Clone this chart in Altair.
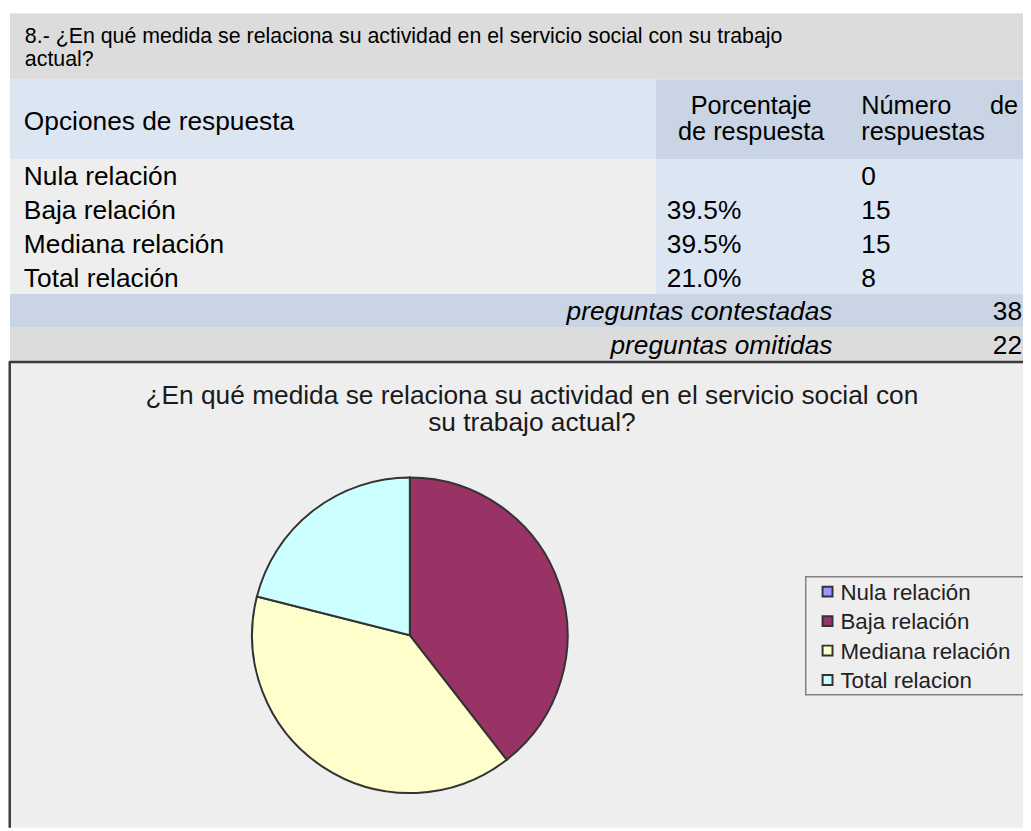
import altair as alt
import pandas as pd

# ---------------- data ----------------
question = ["8.- ¿En qué medida se relaciona su actividad en el servicio social con su trabajo", "actual?"]
header_options = "Opciones de respuesta"
header_pct = ["Porcentaje", "de respuesta"]
header_num = ["Número", "de", "respuestas"]
options = ["Nula relación", "Baja relación", "Mediana relación", "Total relación"]
percent_labels = ["", "39.5%", "39.5%", "21.0%"]
counts = [0, 15, 15, 8]
summary_labels = ["preguntas contestadas", "preguntas omitidas"]
summary_values = [38, 22]
chart_title = ["¿En qué medida se relaciona su actividad en el servicio social con", "su trabajo actual?"]
legend_labels = ["Nula relación", "Baja relación", "Mediana relación", "Total relacion"]
slice_colors = ["#9999FF", "#993366", "#FFFFCC", "#CCFFFF"]

# ---------------- layout (page pixels) ----------------
W, H = 1023, 823
OX, OY = 8, 8
FONT = "Liberation Sans"
XS = alt.Scale(domain=[OX, OX + W], nice=False, zero=False)
YS = alt.Scale(domain=[OY, OY + H], nice=False, zero=False, reverse=True)
X = alt.X("x:Q", scale=XS, axis=None)
Y = alt.Y("y:Q", scale=YS, axis=None)

layers = []


def rect(x, x2, y, y2, fill, **kw):
    df = pd.DataFrame({"x": [x], "x2": [x2], "y": [y], "y2": [y2]})
    return alt.Chart(df).mark_rect(fill=fill, **kw).encode(
        x=X, x2="x2:Q", y=Y, y2="y2:Q")


def texts(rows, **kw):
    df = pd.DataFrame(rows, columns=["x", "y", "t"])
    kw.setdefault("font", FONT)
    kw.setdefault("baseline", "alphabetic")
    kw.setdefault("color", "#000000")
    kw.setdefault("align", "left")
    return alt.Chart(df).mark_text(**kw).encode(x=X, y=Y, text="t:N")


def cap_base(center, fs):
    return center + 0.358 * fs


LEFT, SPLIT, RIGHT = 10, 661, 1031
T0, T1, T2 = 10, 77, 157
ROW_H = 34
rows_end = T2 + ROW_H * len(options)

# backgrounds
layers.append(rect(LEFT, RIGHT, T0, T1, "#DCDCDC"))
layers.append(rect(LEFT, SPLIT, T1, T2, "#DCE6F2"))
layers.append(rect(SPLIT, RIGHT, T1, T2, "#C9D5E5"))
layers.append(rect(LEFT, SPLIT, T2, rows_end, "#EEEEEE"))
layers.append(rect(SPLIT, RIGHT, T2, rows_end, "#DCE6F2"))
layers.append(rect(LEFT, RIGHT, rows_end, rows_end + ROW_H, "#C9D5E5"))
layers.append(rect(LEFT, RIGHT, rows_end + ROW_H, rows_end + 2 * ROW_H, "#DCDCDC"))
box_top = rows_end + 2 * ROW_H
layers.append(rect(9, RIGHT, box_top, OY + H, "#EEEEEE"))

# chart-box border (top and left)
border = pd.DataFrame({"x": [9, 9.75], "x2": [RIGHT, 9.75],
                       "y": [box_top + 0.5, box_top], "y2": [box_top + 0.5, OY + H]})
layers.append(alt.Chart(border).mark_rule(color="#3A3A3A", strokeWidth=2.5).encode(
    x=X, x2="x2:Q", y=Y, y2="y2:Q"))

# question title
FS_T = 21.5
layers.append(texts([(25, 40, question[0]), (25, 63, question[1])], fontSize=FS_T))

# table headers
FS = 26.5
FS_H = 25.5
layers.append(texts([(24, cap_base(118, FS), header_options)], fontSize=FS))
layers.append(texts([(757, 112, header_pct[0]), (757, 138, header_pct[1])], fontSize=FS_H, align="center"))
layers.append(texts([(868, 112, header_num[0]), (868, 138, header_num[2])], fontSize=FS_H))
layers.append(texts([(1026, 112, header_num[1])], fontSize=FS_H, align="right"))

# table body
body = []
for i, (o, p, c) in enumerate(zip(options, percent_labels, counts)):
    yb = cap_base(T2 + ROW_H * i + ROW_H / 2, FS)
    body.append((24, yb, o))
    body.append((672, yb, p))
    body.append((868, yb, str(c)))
layers.append(texts(body, fontSize=FS))

# summary rows
summ_l, summ_v = [], []
for i, (lab, v) in enumerate(zip(summary_labels, summary_values)):
    yb = cap_base(rows_end + ROW_H * i + ROW_H / 2, FS)
    summ_l.append((839, yb, lab))
    summ_v.append((1030, yb, str(v)))
layers.append(texts(summ_l, fontSize=FS, align="right", fontStyle="italic"))
layers.append(texts(summ_v, fontSize=FS, align="right"))

# chart title
FS_C = 26.5
layers.append(texts([(536, cap_base(394, FS_C), chart_title[0]),
                     (536, cap_base(422, FS_C), chart_title[1])],
                    fontSize=FS_C, align="center", color="#1A1A1A"))

# pie
CX, CY, R = 413, 637, 159
pie_df = pd.DataFrame({"cat": legend_labels, "n": counts, "idx": list(range(len(counts)))})
color_scale = alt.Scale(domain=legend_labels, range=slice_colors)
layers.append(alt.Chart(pie_df).mark_arc(outerRadius=R, x=CX - OX, y=CY - OY,
                                         stroke="#333333", strokeWidth=2).encode(
    theta=alt.Theta("n:Q", stack=True),
    order=alt.Order("idx:Q"),
    color=alt.Color("cat:N", scale=color_scale, legend=None)))

# legend
LX0, LY0, LY1 = 812, 578, 697
layers.append(rect(LX0, RIGHT + 10, LY0, LY1, "#EEEEEE", stroke="#808080", strokeWidth=1.5))
leg_rows = pd.DataFrame({"cat": legend_labels,
                         "y": [593 + 29.7 * i for i in range(len(legend_labels))]})
leg_rows["x"] = 834
leg_rows["tx"] = 847
layers.append(alt.Chart(leg_rows).mark_square(size=100, filled=True, opacity=1,
                                              stroke="#333333", strokeWidth=2).encode(
    x=X, y=Y, color=alt.Color("cat:N", scale=color_scale, legend=None)))
FS_L = 22.5
leg_rows["yb"] = leg_rows["y"] + 0.358 * FS_L
layers.append(alt.Chart(leg_rows).mark_text(font=FONT, fontSize=FS_L, align="left",
                                            baseline="alphabetic", color="#222222").encode(
    x=alt.X("tx:Q", scale=XS, axis=None), y=alt.Y("yb:Q", scale=YS, axis=None), text="cat:N"))

chart = alt.layer(*layers).properties(
    width=W, height=H, padding=0,
    autosize=alt.AutoSizeParams(type="none"),
    background="#FFFFFF",
).configure_view(stroke=None)

chart.save("out.html", embed_options={"renderer": "svg", "actions": False})
